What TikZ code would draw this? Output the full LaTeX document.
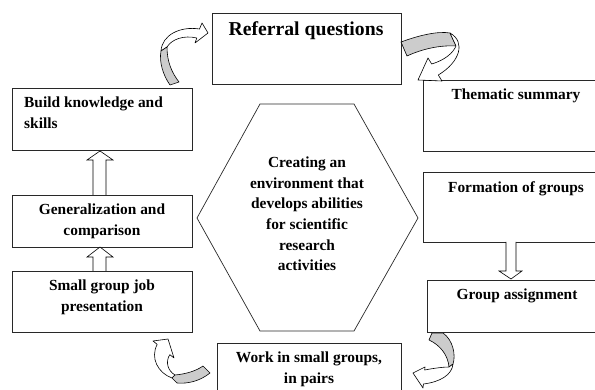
\documentclass[tikz,border=0pt]{standalone}
\usepackage{fontspec}
\setmainfont{Liberation Serif}
\definecolor{ribbongray}{RGB}{204,204,204}
\definecolor{edge}{RGB}{40,40,40}
\tikzset{
  txt/.style={font=\fontsize{15.4}{20.6}\selectfont\bfseries, align=center, inner sep=0pt},
  boxline/.style={draw=edge, line width=0.8pt},
  fullbox/.style={boxline, fill=white, rectangle, inner sep=0pt},
  blockarrow/.style={draw=black, fill=white, line width=0.6pt, line join=miter},
  ribbonfront/.style={draw=black, fill=white, line width=0.6pt, line join=round},
  ribbonback/.style={draw=black, fill=ribbongray, line width=0.6pt, line join=round}
}
\begin{document}
\begin{tikzpicture}[x=1pt,y=-1pt]
\useasboundingbox (0,0) rectangle (595,390);

% full boxes
\node[fullbox, minimum width=189pt, minimum height=71pt] (ref) at (306.5,48.5) {};
\node[txt, font=\fontsize{19.7}{24}\selectfont\bfseries] (reft) at (306,31) {Referral questions};

\node[fullbox, minimum width=180pt, minimum height=62pt] (build) at (102,119) {};
\node[txt, align=left, anchor=west] (buildt) at (24,112.5) {Build knowledge and\\skills};

\node[fullbox, minimum width=180pt, minimum height=52pt] (gen) at (102,221) {};
\node[txt] (gent) at (102,221.5) {Generalization and\\comparison};

\node[fullbox, minimum width=180pt, minimum height=61pt] (small) at (102,301.5) {};
\node[txt] (smallt) at (102,297) {Small group job\\presentation};

% boxes cut by the right or bottom edge
\draw[boxline] (595,80) -- (423,80) -- (423,151) -- (595,151);
\node[txt] (them) at (516,96) {Thematic summary};

\draw[boxline] (595,172) -- (423,172) -- (423,242) -- (595,242);
\node[txt] (form) at (516,189) {Formation of groups};

\draw[boxline] (595,280) -- (427,280) -- (427,332) -- (595,332);
\node[txt] (assign) at (517,296) {Group assignment};

\draw[boxline] (217,391) -- (217,343) -- (401,343) -- (401,391);
\node[txt] (work) at (309,369) {Work in small groups,\\in pairs};

% hexagon
\draw[boxline, line width=0.7pt] (260,104) coordinate (h1) -- (354,104) -- (418,218) -- (354,331) -- (260,331) -- (197,218) -- cycle;
\node[txt] (hext) at (307,214) {Creating an\\environment that\\develops abilities\\for scientific\\research\\activities};

% straight block arrows
\draw[blockarrow] (93,195) -- (93,160) -- (87,160) -- (100,151) -- (113,160) -- (106,160) -- (106,195);
\draw[blockarrow] (93,271) -- (93,257) -- (87,257) -- (100,247) -- (113,257) -- (106,257) -- (106,271);
\draw[blockarrow] (506,242) -- (506,271) -- (499,271) -- (511,279) -- (522,271) -- (516,271) -- (516,242);

% curved ribbon arrow 1 (Build -> Referral)
\draw[ribbonfront] (161,51) .. controls (162,35) and (180,26) .. (199.5,29) -- (202,23) -- (208,33) -- (195,43) -- (196.8,38) .. controls (184,35) and (172,39) .. (167,47) -- cycle;
\draw[ribbonback] (161,51) -- (167,47) .. controls (167,62) and (172,73) .. (179,82) -- (170,85) .. controls (163,75) and (159,62) .. (161,51) -- cycle;

% curved ribbon arrow 2 (Referral -> Thematic)
\draw[ribbonback] (401,42) .. controls (420,35) and (438,31) .. (450,33) -- (456,46) .. controls (440,45) and (422,49) .. (407,56) -- cycle;
\draw[ribbonfront] (450,33) .. controls (466,42) and (460,62) .. (438.3,75) -- (442,81) -- (418,80) -- (428,58) -- (431.7,64) .. controls (445,60) and (453,53) .. (456,46) -- cycle;

% curved ribbon arrow 3 (Group assignment -> Work)
\draw[ribbonback] (429,340) -- (432,333) -- (443,333) .. controls (453,340) and (456,355) .. (453,364) -- (449,367) .. controls (448,355) and (440,345) .. (429,340) -- cycle;
\draw[ribbonfront] (453,364) .. controls (452,375) and (440,382) .. (423.4,384) -- (423,388) -- (413,373) -- (425,367) -- (424.7,370) .. controls (435,368) and (444,367) .. (449,367) -- cycle;

% curved ribbon arrow 4 (Work -> Small group)
\draw[ribbonfront] (172,378) .. controls (158,373) and (150,358) .. (157.2,344.4) -- (153,341) -- (168,339) -- (174,358) -- (169.8,354.6) .. controls (165,362) and (168,371) .. (175,375) -- cycle;
\draw[ribbonback] (175,375) .. controls (186,374) and (196,371) .. (203,366) -- (210,373) .. controls (200,381) and (188,384) .. (177,383) -- (172,378) -- cycle;
\end{tikzpicture}
\end{document}
